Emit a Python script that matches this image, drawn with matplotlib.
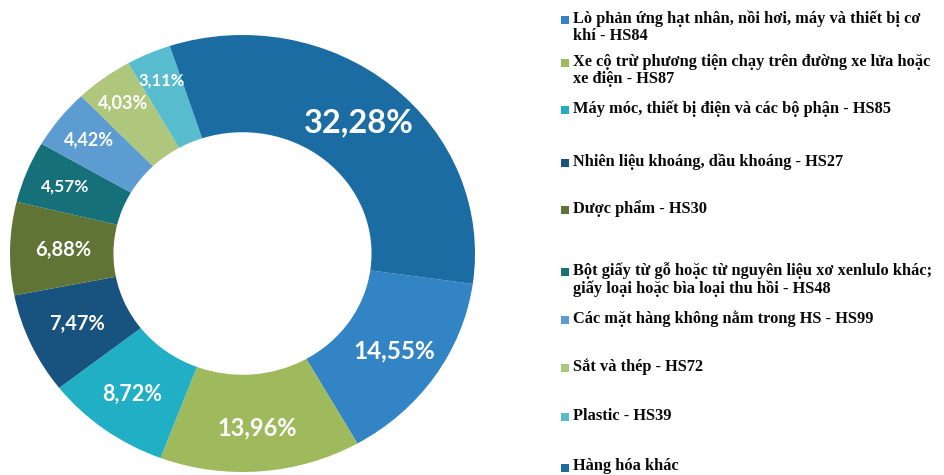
import numpy as np
import matplotlib
matplotlib.use("Agg")
import matplotlib.pyplot as plt
from matplotlib.patches import Rectangle

# Export share by HS group (%)
categories = [
    "Lò phản ứng hạt nhân, nồi hơi, máy và thiết bị cơ\nkhí - HS84",
    "Xe cộ trừ phương tiện chạy trên đường xe lửa hoặc\nxe điện - HS87",
    "Máy móc, thiết bị điện và các bộ phận - HS85",
    "Nhiên liệu khoáng, dầu khoáng - HS27",
    "Dược phẩm - HS30",
    "Bột giấy từ gỗ hoặc từ nguyên liệu xơ xenlulo khác;\ngiấy loại hoặc bìa loại thu hồi - HS48",
    "Các mặt hàng không nằm trong HS - HS99",
    "Sắt và thép - HS72",
    "Plastic - HS39",
    "Hàng hóa khác",
]
shares = [14.55, 13.96, 8.72, 7.47, 6.88, 4.57, 4.42, 4.03, 3.11, 32.28]

colors = ["#3384C4", "#9FBA5C", "#20AFC5", "#18527E", "#5F7435",
          "#16707A", "#5D9CD1", "#AEC77C", "#57BCCE", "#1A6CA3"]

# label styling per slice
label_sizes = [17.5, 17, 15.5, 14.5, 14.5, 12.5, 13, 13, 12, 23.5]
label_radius = [0.79, 0.80, 0.80, 0.78, 0.77, 0.82, 0.84, 0.86, 0.865, 0.78]

fig = plt.figure(figsize=(9.44, 4.75), dpi=100)
W, H = 944, 475

ax = fig.add_axes([10 / W, 3 / H, 465 / W, 437 / H])
wedges, _ = ax.pie(shares, colors=colors, startangle=-8, counterclock=False,
                   radius=1.0, wedgeprops=dict(width=0.445, linewidth=0))
ax.set_aspect("auto")
ax.set_xlim(-1, 1)
ax.set_ylim(-1, 1)
ax.axis("off")

for w, val, fs, r in zip(wedges, shares, label_sizes, label_radius):
    mid = np.deg2rad((w.theta1 + w.theta2) / 2)
    ax.text(r * np.cos(mid), r * np.sin(mid), f"{val:.2f}%".replace(".", ","),
            ha="center", va="center", color="white", fontsize=fs,
            fontweight="bold", family="Lato")

# legend on the right
legend_y = [20, 63, 110, 163, 210, 272, 320, 368, 417, 468]
for y, lab, c in zip(legend_y, categories, colors):
    fig.patches.append(Rectangle((561 / W, 1 - (y + 4) / H), 8 / W, 8 / H,
                                 transform=fig.transFigure, facecolor=c,
                                 edgecolor="none"))
    fig.text(573 / W, 1 - (y - 9.5) / H, lab, ha="left", va="top",
             fontsize=11.8, fontweight="bold", family="Liberation Serif",
             color="#0a0a0a", linespacing=1.12)

fig.savefig("out.png", dpi=100)
